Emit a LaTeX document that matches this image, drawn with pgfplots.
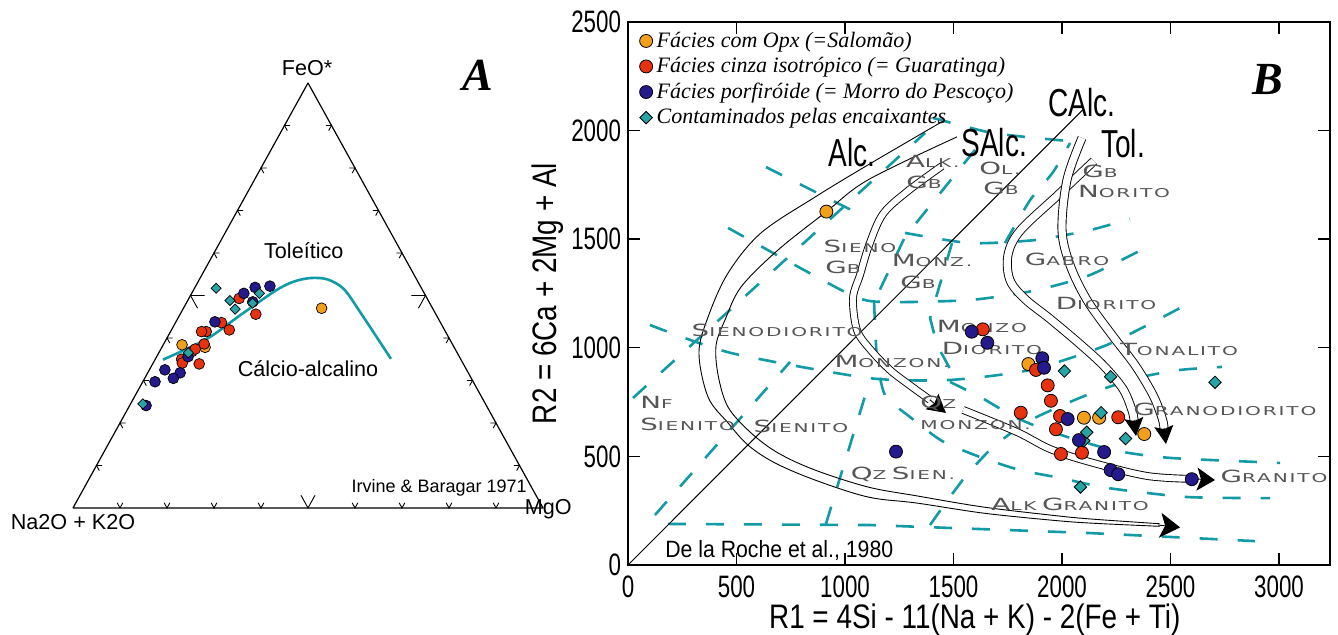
\documentclass[border=0pt]{standalone}
\usepackage{pgfplots}
\pgfplotsset{compat=1.18}
\usepackage{pgfplotstable}
\usetikzlibrary{arrows.meta}
\usepackage{fontspec}
\setmainfont{Liberation Sans}
\newfontfamily\lblfont[FakeStretch=0.82]{Liberation Sans}
\newfontfamily\tickfont[FakeStretch=0.72]{Liberation Sans}
\newfontfamily\refsfont[FakeStretch=0.9]{Liberation Sans}
\newfontfamily\timesfont{Liberation Serif}
\newfontfamily\fieldfont[FakeStretch=1.65,LetterSpace=15]{DejaVu Sans}

\definecolor{cOpx}{RGB}{242,160,28}
\definecolor{cCinza}{RGB}{232,50,15}
\definecolor{cPorf}{RGB}{36,26,140}
\definecolor{cCont}{RGB}{38,164,166}
\definecolor{cLine}{RGB}{18,154,166}
\definecolor{fieldgray}{RGB}{85,85,85}

% field names in extended small capitals
\newcommand{\fld}[2]{{\fieldfont\fontsize{8.4}{8.4}\selectfont #1\fontsize{6.1}{6.1}\selectfont #2}}

\pgfplotsset{
  markleg/.style={legend image code/.code={%
    \draw[mark repeat=2, mark phase=2, ##1] plot coordinates {(-4pt,0pt) (0pt,0pt) (4pt,0pt)};}},
  fieldline/.style={forget plot, cLine, line width=1.3pt, dash pattern=on 9pt off 10pt, no marks},
  trend/.style={forget plot, black, line width=0.45pt, double=white, no marks, smooth, tension=0.55},
  single/.style={forget plot, black, line width=0.45pt, no marks, smooth, tension=0.55},
  tip/.style={forget plot, black, line width=0.45pt, no marks},
}

% ---------- AFM ternary data (A = Na2O+K2O, F = FeO*, M = MgO, %) ----------
\pgfplotstableread{
A F M
57.6 38.4 4.0
53.0 37.8 9.2
23.6 47.0 29.4
}\terOpx
\pgfplotstableread{
A F M
40.0 49.3 10.7
38.3 45.6 16.1
46.6 43.6 9.8
45.8 41.9 12.3
50.9 41.5 7.6
51.9 41.5 6.6
52.8 38.6 8.6
56.3 36.8 6.9
59.4 35.0 5.6
56.2 33.9 9.9
59.7 34.1 6.2
55.3 37.4 7.3
}\terCinza
\pgfplotstableread{
A F M
38.4 50.5 11.1
35.3 51.9 12.8
32.0 52.2 15.8
37.5 48.5 14.0
47.9 43.8 8.3
57.7 35.6 6.7
61.3 31.8 6.9
64.2 32.5 3.3
63.4 30.5 6.1
67.7 29.7 2.6
72.4 24.1 3.5
}\terPorf
\pgfplotstableread{
A F M
43.7 51.7 4.6
42.2 48.8 9.0
42.1 46.8 11.1
35.1 50.5 14.4
37.7 48.2 14.1
57.2 36.5 6.3
72.9 24.5 2.6
}\terCont
% Irvine & Baragar (1971) tholeiitic / calc-alkaline divide
\pgfplotstableread{
A F M
63.4 34.9 1.7
51.6 39.8 8.6
41.5 45.5 13.0
31.4 51.1 17.5
26.6 53.2 20.2
22.5 54.1 23.4
19.0 53.8 27.2
16.6 51.5 31.9
15.8 45.5 38.7
15.2 39.4 45.4
14.8 35.1 50.1
}\terIB

% ---------- R1-R2 data ----------
\pgfplotstableread{
X Y
914 1627
1845 925
2101 678
2171 678
2379 603
}\rrOpx
\pgfplotstableread{
X Y
1635 1085
1880 898
1934 827
1949 756
1810 701
1991 686
1972 625
2259 680
1995 511
2092 517
}\rrCinza
\pgfplotstableread{
X Y
1584 1074
1656 1023
1909 952
1917 908
2026 672
2078 575
2194 520
2224 437
2259 418
2598 395
1235 522
}\rrPorf
\pgfplotstableread{
X Y
2011 893
2224 867
2180 701
2114 611
2293 582
2705 841
2085 359
}\rrCont

\begin{document}
\begin{tikzpicture}[
  tickA/.style={black, line width=0.45pt},
  fl/.style={text=fieldgray, inner sep=0pt},
  big/.style={font=\tickfont\fontsize{19.5}{20}\selectfont, inner sep=0pt},
]
\useasboundingbox (0,0) rectangle (669pt,317.5pt);

% ================= A: AFM diagram =================
\begin{axis}[
  at={(36.5pt,63.5pt)}, anchor=south west,
  width=235pt, height=212.5pt, scale only axis,
  xmin=0, xmax=1, ymin=0, ymax=1,
  hide axis, clip=false,
]
\addplot[black, line width=0.6pt, line join=round, no marks] coordinates {(0,0) (1,0) (0.5,1) (0,0)};
\pgfplotsinvokeforeach{1,2,3,4,6,7,8,9}{
  \draw[tickA] (axis cs:{#1/10-0.006},0.012) -- (axis cs:{#1/10},0) -- (axis cs:{#1/10+0.006},0.012);
  \draw[tickA] (axis cs:{#1/20+0.012},{#1/10}) -- (axis cs:{#1/20},{#1/10}) -- (axis cs:{#1/20+0.006},{#1/10-0.012});
  \draw[tickA] (axis cs:{1-#1/20-0.012},{#1/10}) -- (axis cs:{1-#1/20},{#1/10}) -- (axis cs:{1-#1/20-0.006},{#1/10-0.012});
}
\draw[tickA] (axis cs:0.485,0.03) -- (axis cs:0.5,0) -- (axis cs:0.515,0.03);
\draw[tickA] (axis cs:0.28,0.5) -- (axis cs:0.25,0.5) -- (axis cs:0.265,0.47);
\draw[tickA] (axis cs:0.72,0.5) -- (axis cs:0.75,0.5) -- (axis cs:0.735,0.47);

\addplot[cLine, line width=1.3pt, smooth, tension=0.5, no marks]
  table[x expr={\thisrow{M}/100+\thisrow{F}/200}, y expr={\thisrow{F}/100}] {\terIB};

\addplot[only marks, mark=*, mark size=2.7pt, mark options={fill=cOpx, draw=black, line width=0.35pt}]
  table[x expr={\thisrow{M}/100+\thisrow{F}/200}, y expr={\thisrow{F}/100}] {\terOpx};
\addplot[only marks, mark=*, mark size=2.7pt, mark options={fill=cCinza, draw=black, line width=0.35pt}]
  table[x expr={\thisrow{M}/100+\thisrow{F}/200}, y expr={\thisrow{F}/100}] {\terCinza};
\addplot[only marks, mark=*, mark size=2.7pt, mark options={fill=cPorf, draw=black, line width=0.35pt}]
  table[x expr={\thisrow{M}/100+\thisrow{F}/200}, y expr={\thisrow{F}/100}] {\terPorf};
\addplot[only marks, mark=square*, mark size=1.8pt, mark options={rotate=45, fill=cCont, draw=black, line width=0.35pt}]
  table[x expr={\thisrow{M}/100+\thisrow{F}/200}, y expr={\thisrow{F}/100}] {\terCont};

\node[font=\fontsize{10.8}{12}\selectfont] at (axis cs:0.498,1.035) {FeO*};
\node[font=\fontsize{10.8}{12}\selectfont] at (axis cs:0,-0.033) {Na2O + K2O};
\node[font=\fontsize{10.8}{12}\selectfont] at (axis cs:1.011,-0.004) {MgO};
\node[font=\fontsize{10.8}{12}\selectfont] at (axis cs:0.491,0.605) {Toleítico};
\node[font=\fontsize{10.8}{12}\selectfont] at (axis cs:0.5,0.327) {Cálcio-alcalino};
\node[font=\fontsize{9}{10}\selectfont] at (axis cs:0.779,0.047) {Irvine \& Baragar 1971};
\node[font=\timesfont\bfseries\itshape\fontsize{23}{24}\selectfont] at (axis cs:0.862,1.019) {A};
\end{axis}

% ================= B: R1-R2 diagram =================
\begin{axis}[
  at={(314pt,35pt)}, anchor=south west,
  width=351pt, height=271.5pt, scale only axis,
  xmin=0, xmax=3235, ymin=0, ymax=2500,
  xtick={0,500,...,3000}, ytick={0,500,...,2500},
  tick align=inside, major tick length=6pt,
  tick style={black, line width=0.7pt},
  axis line style={line width=0.75pt},
  /pgf/number format/1000 sep={},
  /pgf/number format/assume math mode=true,
  ticklabel style={font=\tickfont\fontsize{15.5}{16}\selectfont},
  xticklabel style={yshift=-2pt},
  clip=false,
  legend cell align=left,
  markleg,
  legend style={draw=none, fill=none, at={(rel axis cs:0.016,0.99)}, anchor=north west,
    inner sep=0pt, row sep=-0.4pt,
    font=\timesfont\itshape\fontsize{11}{12}\selectfont,
    /tikz/every even column/.append style={column sep=1pt}},
]
% field boundaries
\addplot[fieldline] coordinates {(184,189) (1115,184) (2129,147) (2889,110)};
\addplot[fieldline] coordinates {(124,230) (747,935)};
\addplot[fieldline] coordinates {(23,769) (1369,1989)};
\addplot[fieldline] coordinates {(636,1832) (1055,1621)};
\addplot[fieldline, smooth, tension=0.4] coordinates {(461,1552) (1028,1243) (1207,1211) (1576,1220) (1866,1262) (2129,1335) (2429,1483)};
\addplot[fieldline, smooth, tension=0.4] coordinates {(101,1105) (475,976) (1106,861) (1484,852) (1853,898) (2207,1013) (2553,1188)};
\addplot[fieldline] coordinates {(912,189) (1115,852)};
\addplot[fieldline, smooth, tension=0.4] coordinates {(1134,1211) (1147,958) (1184,783) (1300,681) (1447,571) (1622,497) (1806,437) (1991,401) (2207,355) (2576,313) (2959,308)};
\addplot[fieldline] coordinates {(1493,1482) (1392,1137) (1424,1013) (1507,861)};
\addplot[fieldline, smooth, tension=0.4] coordinates {(1484,843) (1631,769) (1783,681) (1954,612) (2235,529) (2498,493) (3005,470)};
\addplot[fieldline, smooth, tension=0.4] coordinates {(1392,184) (1447,262) (1553,405) (1682,543) (1839,658) (2005,737) (2175,806) (2369,866) (2544,898) (2737,912)};
\addplot[fieldline, smooth, tension=0.4] coordinates {(1406,2058) (1654,1994) (1829,1971) (2028,1952)};
\addplot[fieldline] coordinates {(1599,1911) (1276,1510) (1138,1220)};
\addplot[fieldline, smooth, tension=0.4] coordinates {(1276,1529) (1576,1482) (1876,1496) (2129,1542) (2313,1593)};
\addplot[fieldline, smooth, tension=0.4] coordinates {(1737,1482) (1853,1680) (1959,1809) (2037,1943)};

% R1 = R2 reference line
\addplot[forget plot, black, line width=0.5pt, no marks] coordinates {(0,0) (2100,2100)};

% magmatic trends
\addplot[single] coordinates {
 (1461,2049) (1106,1842) (862,1694) (613,1529) (461,1344) (369,1142) (327,976) (369,773)
 (461,654) (553,552) (677,470) (862,391) (1106,313) (1332,285) (1636,239) (1945,207) (2129,193) (2450,178)};
\addplot[single] coordinates {
 (1516,1971) (1106,1773) (912,1625) (691,1450) (521,1280) (447,1128) (406,1013) (415,875)
 (461,727) (567,608) (691,516) (862,437) (1106,359) (1332,318) (1636,267) (1945,230) (2129,212) (2450,190)};
\addplot[tip, -{Stealth[length=10pt, width=12.5pt, inset=2.5pt]}] coordinates {(2442,184) (2544,173)};

\addplot[trend, double distance=3pt] coordinates {
 (1447,1837) (1290,1722) (1175,1616) (1111,1473) (1069,1335) (1037,1229) (1055,1082) (1115,994) (1207,898) (1309,820) (1392,760)};
\addplot[tip, -{Stealth[length=9pt, width=10pt, inset=1.5pt]}] coordinates {(1392,760) (1465,700)};

\addplot[trend, double distance=3pt] coordinates {
 (1544,714) (1793,612) (1945,534) (2129,474) (2392,410) (2613,396)};
\addplot[tip, -{Stealth[length=9pt, width=11.5pt, inset=2pt]}] coordinates {(2613,396) (2705,391)};

\addplot[trend, double distance=3.6pt] coordinates {
 (2147,1860) (1981,1703) (1806,1538) (1751,1427) (1760,1312) (1829,1225) (1945,1133) (2083,1017) (2193,916) (2281,810) (2322,714) (2332,668)};
\addplot[tip, -{Stealth[length=9pt, width=9.5pt, inset=1.5pt]}] coordinates {(2332,668) (2341,594)};

\addplot[trend, double distance=3.6pt] coordinates {
 (2092,1966) (2023,1773) (2000,1542) (2037,1381) (2115,1220) (2230,1059) (2336,921) (2419,783) (2461,677) (2470,631)};
\addplot[tip, -{Stealth[length=9pt, width=9.5pt, inset=1.5pt]}] coordinates {(2470,631) (2479,557)};

% field names
\node[fl] at (axis cs:1405,1860) {\fld{A}{LK.}};
\node[fl] at (axis cs:1364,1763) {\fld{G}{B}};
\node[fl] at (axis cs:1714,1825) {\fld{O}{L.}};
\node[fl] at (axis cs:1719,1735) {\fld{G}{B}};
\node[fl] at (axis cs:2175,1812) {\fld{G}{B}};
\node[fl] at (axis cs:2286,1722) {\fld{N}{ORITO}};
\node[fl] at (axis cs:1069,1469) {\fld{S}{IENO}};
\node[fl] at (axis cs:991,1372) {\fld{G}{B}};
\node[fl] at (axis cs:1401,1400) {\fld{M}{ONZ.}};
\node[fl] at (axis cs:1336,1303) {\fld{G}{B}};
\node[fl] at (axis cs:2023,1409) {\fld{G}{ABRO}};
\node[fl] at (axis cs:2203,1202) {\fld{D}{IORITO}};
\node[fl] at (axis cs:687,1082) {\fld{S}{IENODIORITO}};
\node[fl] at (axis cs:1631,1096) {\fld{M}{ONZO}};
\node[fl] at (axis cs:1677,999) {\fld{D}{IORITO}};
\node[fl] at (axis cs:1217,935) {\fld{M}{ONZON.}};
\node[fl] at (axis cs:2539,994) {\fld{T}{ONALITO}};
\node[fl, anchor=west] at (axis cs:55,750) {\fld{N}{F}};
\node[fl, anchor=west] at (axis cs:55,649) {\fld{S}{IENITO}};
\node[fl] at (axis cs:797,640) {\fld{S}{IENITO}};
\node[fl, anchor=west] at (axis cs:1346,746) {\fld{Q}{Z}};
\node[fl, anchor=west] at (axis cs:1346,645) {\fld{}{MONZON.}};
\node[fl] at (axis cs:2751,718) {\fld{G}{RANODIORITO}};
\node[fl] at (axis cs:1267,419) {\fld{Q}{Z} \fld{S}{IEN.}};
\node[fl] at (axis cs:2977,410) {\fld{G}{RANITO}};
\node[fl] at (axis cs:2037,281) {\fld{A}{LK} \fld{G}{RANITO}};

% series names
\node[big] at (axis cs:1032,1901) {Alc.};
\node[big] at (axis cs:1687,1945) {SAlc.};
\node[big] at (axis cs:2092,2127) {CAlc.};
\node[big] at (axis cs:2281,1940) {Tol.};
\node[font=\refsfont\fontsize{11.8}{12}\selectfont, anchor=west, inner sep=0pt] at (axis cs:170,69) {De la Roche et al., 1980};
\node[font=\timesfont\bfseries\itshape\fontsize{23}{24}\selectfont] at (axis cs:2949,2233) {B};

% samples
\addplot[only marks, mark=*, mark size=3.25pt, mark options={fill=cOpx, draw=black, line width=0.4pt}] table[x=X, y=Y] {\rrOpx};
\addlegendentry{Fácies com Opx (=Salomão)}
\addplot[only marks, mark=*, mark size=3.25pt, mark options={fill=cCinza, draw=black, line width=0.4pt}] table[x=X, y=Y] {\rrCinza};
\addlegendentry{Fácies cinza isotrópico (= Guaratinga)}
\addplot[only marks, forget plot, mark=square*, mark size=2.2pt, mark options={rotate=45, fill=cCont, draw=black, line width=0.4pt}] coordinates {(2100,572)};
\addplot[only marks, mark=*, mark size=3.25pt, mark options={fill=cPorf, draw=black, line width=0.4pt}] table[x=X, y=Y] {\rrPorf};
\addlegendentry{Fácies porfiróide (= Morro do Pescoço)}
\addplot[only marks, mark=square*, mark size=2.2pt, mark options={rotate=45, fill=cCont, draw=black, line width=0.4pt}] table[x=X, y=Y] {\rrCont};
\addlegendentry{Contaminados pelas encaixantes}

% axis titles
\node[font=\lblfont\fontsize{17}{18}\selectfont, inner sep=0pt] at (rel axis cs:0.494,-0.1) {R1 = 4Si - 11(Na + K) - 2(Fe + Ti)};
\node[font=\lblfont\fontsize{17}{18}\selectfont, rotate=90] at (rel axis cs:-0.114,0.5) {R2 = 6Ca + 2Mg + Al};
\end{axis}
\end{tikzpicture}
\end{document}
